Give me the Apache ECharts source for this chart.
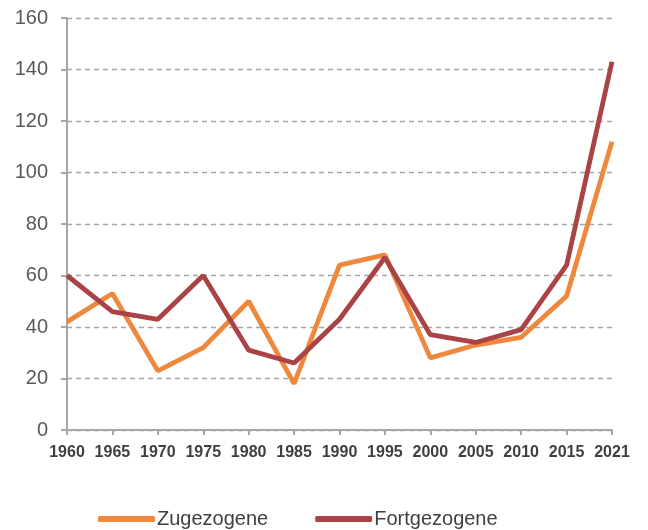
<!DOCTYPE html>
<html><head><meta charset="utf-8">
<script src="https://cdn.jsdelivr.net/npm/echarts@6/dist/echarts.min.js"></script>
<style>html,body{margin:0;padding:0;background:#fff}#c{width:648px;height:530px}</style>
</head><body><div id="c"></div>
<script>
const years = ['1960','1965','1970','1975','1980','1985','1990','1995','2000','2005','2010','2015','2021'];
const zugezogene = [42,53,23,32,50,18,64,68,28,33,36,52,112];
const fortgezogene = [60,46,43,60,31,26,43,67,37,34,39,64,143];
const chart = echarts.init(document.getElementById('c'));
chart.setOption({
  animation:false,
  grid:{left:67,right:36,top:18,bottom:100,containLabel:false},
  legend:{top:504,left:93,itemWidth:57,itemHeight:6,itemGap:47,
    icon:'roundRect',
    textStyle:{fontFamily:'Liberation Sans, Arial',fontSize:20,color:'#404040',padding:[0,0,0,-3]},
    data:['Zugezogene','Fortgezogene']},
  xAxis:{type:'category',data:years,boundaryGap:false,
    axisLine:{lineStyle:{color:'#A6A6A6',width:2}},
    axisTick:{show:true,length:5,lineStyle:{color:'#A6A6A6',width:2},alignWithLabel:true},
    axisLabel:{interval:0,fontFamily:'Liberation Sans, Arial',fontWeight:'bold',fontSize:16,color:'#404040',margin:15}},
  yAxis:{type:'value',min:0,max:160,interval:20,
    axisLine:{show:true,lineStyle:{color:'#A6A6A6',width:2}},
    axisTick:{show:true,length:6,lineStyle:{color:'#A6A6A6',width:2}},
    axisLabel:{fontFamily:'Liberation Sans, Arial',fontSize:20,color:'#595959',margin:19},
    splitLine:{lineStyle:{color:'#A6A6A6',type:[5,4],width:1.3}}},
  series:[
    {name:'Zugezogene',type:'line',data:zugezogene,symbol:'none',lineStyle:{color:'#ED883D',width:4.8},itemStyle:{color:'#ED883D'}},
    {name:'Fortgezogene',type:'line',data:fortgezogene,symbol:'none',lineStyle:{color:'#A94345',width:4.8},itemStyle:{color:'#A94345'},z:3}
  ]
});
</script></body></html>
